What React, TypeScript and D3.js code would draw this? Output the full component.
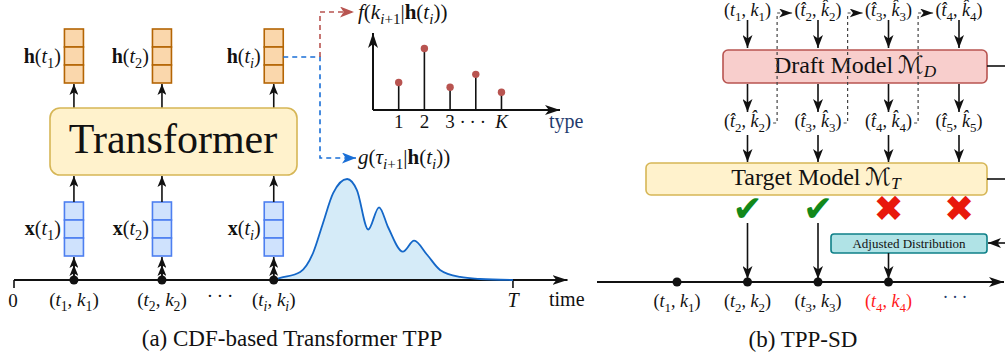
import React from 'react';
import * as d3 from 'd3';

const W = 1005;
const H = 356;
const SERIF = "'Liberation Serif', 'DejaVu Serif', serif";

// (a) event times on the left time axis and their subscripts
const leftTimes = [1.11, 2.74, 4.81];
const leftSubs = ['1', '2', 'i'];
const horizon = 9.24;

// next-event-time density drawn after t_i
const densT = [4.81, 4.93, 5.3, 5.54, 5.72, 5.91, 6.17, 6.35, 6.56, 6.76, 6.93, 7.2, 7.41, 7.65, 7.89, 8.26, 8.63, 9.24];
const densV = [0, 0.02, 0.08, 0.27, 0.56, 0.86, 1.0, 0.89, 0.5, 0.72, 0.52, 0.28, 0.39, 0.25, 0.1, 0.03, 0.01, 0];

// type distribution (stem plot)
const typePos = [1, 2, 3, 4, 5];
const typeLabels = ['1', '2', '3', '\u00b7\u2009\u00b7\u2009\u00b7', 'K'];
const typeProbs = [0.17, 0.38, 0.14, 0.22, 0.11];

// (b) speculative decoding columns
const draftIn = ['1', '2', '3', '4'];
const draftInHat = [false, true, true, true];
const draftOut = ['2', '3', '4', '5'];
const accepted = [true, true, false, false];
const seqIdx = [1, 2, 3, 4];
const seqColor = ['#111', '#111', '#111', '#ff1a1a'];

type Seg = { t: string; s?: 'r' | 'i' | 'b' | 'c'; sub?: boolean };
const r = (t: string): Seg => ({ t, s: 'r' });
const it = (t: string): Seg => ({ t, s: 'i' });
const bf = (t: string): Seg => ({ t, s: 'b' });
const sb = (t: string, s: Seg['s'] = 'r'): Seg => ({ t, s, sub: true });
const subOf = (v: string) => sb(v, /^\d+$/.test(v) ? 'r' : 'i');

const pair = (n: string, hat = false): Seg[] => {
  const h = hat ? '\u0302' : '';
  return [r('('), it('t' + h), subOf(n), r(', '), it('k' + h), subOf(n), r(')')];
};

const MathText = ({ x, y, segs, size, anchor = 'middle', fill = '#111', drop = 0.25 }: any) => {
  let cur = 0;
  return (
    <text x={x} y={y} fontSize={size} textAnchor={anchor} fill={fill} fontFamily={SERIF}>
      {segs.map((g: Seg, k: number) => {
        const off = g.sub ? size * drop : 0;
        const dy = off - cur;
        cur = off;
        return (
          <tspan
            key={k}
            dy={dy}
            fontSize={g.sub ? size * 0.72 : size}
            fontStyle={g.s === 'i' ? 'italic' : 'normal'}
            fontWeight={g.s === 'b' ? 'bold' : 'normal'}
            fontFamily={g.s === 'c' ? "'DejaVu Serif', 'DejaVu Sans', serif" : undefined}
          >
            {g.t}
          </tspan>
        );
      })}
    </text>
  );
};

const Head = ({ id, color, w = 10, h = 8 }: any) => (
  <marker id={id} viewBox="0 0 10 10" refX={10} refY={5} markerWidth={w} markerHeight={h}
    markerUnits="userSpaceOnUse" orient="auto" preserveAspectRatio="none">
    <path d="M0,0 L10,5 L0,10 L2.6,5 Z" fill={color} />
  </marker>
);

const Stack = ({ cx, y, fill, stroke }: any) => (
  <g>
    {[0, 1, 2].map((k) => (
      <rect key={k} x={cx - 9.5} y={y + k * 18} width={19} height={18} fill={fill} stroke={stroke} strokeWidth={1.6} />
    ))}
  </g>
);

export default function App() {
  const xL = d3.scaleLinear().domain([0, 10]).range([14, 554]);
  const yD = d3.scaleLinear().domain([0, 1]).range([280, 179]);
  const xS = d3.scaleLinear().domain([0, 7.2]).range([373, 558]);
  const yS = d3.scaleLinear().domain([0, 0.5]).range([110, 29]);
  const xR = d3.scaleLinear().domain([1, 5]).range([677, 959]);

  const dens = d3.zip(densT, densV) as [number, number][];
  const area = d3.area<[number, number]>()
    .x((d) => xL(d[0])).y0(yD(0)).y1((d) => yD(d[1]))
    .curve(d3.curveMonotoneX);
  const line = d3.line<[number, number]>()
    .x((d) => xL(d[0])).y((d) => yD(d[1]))
    .curve(d3.curveMonotoneX);

  const hi = xL(leftTimes[leftTimes.length - 1]);

  return (
    <svg width={W} height={H} style={{ position: 'absolute', left: 0, top: 0 }} fontFamily={SERIF}>
      <defs>
        <Head id="ak" color="#111" w={11} h={9} />
        <Head id="ab" color="#111" w={13} h={10} />
        <Head id="as" color="#111" w={15} h={10} />
        <Head id="ag" color="#111" w={13} h={9} />
        <Head id="ared" color="#b85450" w={14} h={11} />
        <Head id="ablue" color="#1a6fd6" w={14} h={11} />
      </defs>
      <rect width={W} height={H} fill="#fff" />

      {/* ---------- (a) ---------- */}
      <path d={area(dens) || ''} fill="#d5ebf8" />

      {leftTimes.map((t, k) => (
        <g key={k}>
          <Stack cx={xL(t)} y={29} fill="#fad7ac" stroke="#b46504" />
          <Stack cx={xL(t)} y={202} fill="#cfe2fd" stroke="#4d7ff0" />
          <line x1={xL(t)} y1={108} x2={xL(t)} y2={84} stroke="#111" strokeWidth={1.6} markerEnd="url(#ak)" />
          <line x1={xL(t)} y1={202} x2={xL(t)} y2={176} stroke="#111" strokeWidth={1.6} markerEnd="url(#ak)" />
          <line x1={xL(t)} y1={280} x2={xL(t)} y2={257} stroke="#111" strokeWidth={1.6} markerEnd="url(#ak)" />
          <line x1={xL(t)} y1={280} x2={xL(t)} y2={265} stroke="#111" strokeWidth={1.6} markerEnd="url(#ak)" />
          <MathText x={xL(t) - 13} y={63} size={20} anchor="end"
            segs={[bf('h'), r('('), it('t'), subOf(leftSubs[k]), r(')')]} />
          <MathText x={xL(t) - 13} y={235} size={20} anchor="end"
            segs={[bf('x'), r('('), it('t'), subOf(leftSubs[k]), r(')')]} />
        </g>
      ))}
      <rect x={50} y={108} width={247} height={67} rx={10} fill="#fff2cc" stroke="#d6b656" strokeWidth={1.6} />
      <text x={173} y={153} fontSize={42} textAnchor="middle" fill="#111">Transformer</text>

      {/* time axis */}
      <line x1={xL(0)} y1={280} x2={xL(10.25)} y2={280} stroke="#111" strokeWidth={2} markerEnd="url(#as)" />
      <line x1={xL(0)} y1={280} x2={xL(0)} y2={288} stroke="#111" strokeWidth={1.6} />
      <line x1={xL(horizon)} y1={280} x2={xL(horizon)} y2={288} stroke="#111" strokeWidth={1.6} />
      <path d={line(dens) || ''} fill="none" stroke="#1467c8" strokeWidth={1.8} />
      {leftTimes.map((t, k) => (
        <g key={k}>
          <circle cx={xL(t)} cy={280} r={4.5} fill="#111" />
          <MathText x={xL(t)} y={306} size={19} segs={pair(leftSubs[k])} />
        </g>
      ))}
      <text x={xL(0) - 1} y={307} fontSize={19} textAnchor="middle" fill="#111">0</text>
      <text x={220} y={302} fontSize={19} textAnchor="middle" fill="#111">{'\u00b7\u2009\u00b7\u2009\u00b7'}</text>
      <text x={xL(horizon)} y={307} fontSize={20} fontStyle="italic" textAnchor="middle" fill="#111">T</text>
      <text x={549} y={306} fontSize={20} fill="#111">time</text>

      {/* dashed routes from h(t_i) */}
      <path d={`M${hi + 9.5},57 H320 V158 H356`} fill="none" stroke="#1a6fd6" strokeWidth={1.6}
        strokeDasharray="5 4" markerEnd="url(#ablue)" />
      <path d="M320,57 V12 H354" fill="none" stroke="#b85450" strokeWidth={1.6}
        strokeDasharray="5 4" markerEnd="url(#ared)" />
      <MathText x={358} y={19} size={21} anchor="start"
        segs={[it('f'), r('('), it('k'), sb('i', 'i'), sb('+1'), r('|'), bf('h'), r('('), it('t'), sb('i', 'i'), r('))')]} />
      <MathText x={358} y={164} size={21} anchor="start"
        segs={[it('g'), r('('), it('\u03c4'), sb('i', 'i'), sb('+1'), r('|'), bf('h'), r('('), it('t'), sb('i', 'i'), r('))')]} />

      {/* stem plot */}
      <line x1={xS(0)} y1={yS(0)} x2={xS(0)} y2={33} stroke="#111" strokeWidth={2} markerEnd="url(#as)" />
      <line x1={xS(0)} y1={yS(0)} x2={xS(7.2) + 2} y2={yS(0)} stroke="#111" strokeWidth={2} markerEnd="url(#as)" />
      {typePos.map((p, k) => (
        <g key={k}>
          <line x1={xS(p)} y1={yS(0)} x2={xS(p)} y2={yS(typeProbs[k])} stroke="#111" strokeWidth={1.6} />
          <circle cx={xS(p)} cy={yS(typeProbs[k])} r={3.7} fill="#b85450" />
          <text x={xS(p) - (k === 3 ? 3 : 0)} y={128} fontSize={19} textAnchor="middle" fill="#111"
            fontStyle={typeLabels[k] === 'K' ? 'italic' : 'normal'}>{typeLabels[k]}</text>
        </g>
      ))}
      <text x={549} y={128} fontSize={20} fill="#1f3b6e">type</text>

      <text x={292} y={346} fontSize={23} textAnchor="middle" fill="#111">(a) CDF-based Transformer TPP</text>

      {/* ---------- (b) ---------- */}
      <rect x={723} y={50} width={264} height={33} rx={5} fill="#f8cecc" stroke="#b85450" strokeWidth={1.6} />
      <MathText x={855} y={73} size={24} drop={0.16} segs={[r('Draft Model\u2009'), { t: '\u2133', s: 'c' }, sb('D', 'i')]} />
      <line x1={987} y1={66} x2={1005} y2={66} stroke="#111" strokeWidth={1.6} />

      <rect x={646} y={163} width={341} height={32} rx={5} fill="#fff2cc" stroke="#d6b656" strokeWidth={1.6} />
      <MathText x={816} y={185} size={24} drop={0.16} segs={[r('Target Model\u2009'), { t: '\u2133', s: 'c' }, sb('T', 'i')]} />
      <line x1={987} y1={179} x2={1005} y2={179} stroke="#111" strokeWidth={1.6} />

      {draftIn.map((n, k) => {
        const cx = xR(k + 2);
        return (
          <g key={k}>
            <MathText x={cx} y={16} size={18} segs={pair(n, draftInHat[k])} />
            <line x1={cx} y1={20} x2={cx} y2={48} stroke="#111" strokeWidth={1.6} markerEnd="url(#ab)" />
            <line x1={cx} y1={84} x2={cx} y2={112} stroke="#111" strokeWidth={1.6} markerEnd="url(#ab)" />
            <MathText x={cx} y={127} size={18} segs={pair(draftOut[k], true)} />
            <line x1={cx} y1={135} x2={cx} y2={162} stroke="#111" strokeWidth={1.6} markerEnd="url(#ab)" />
            <text x={cx} y={221} fontSize={36} textAnchor="middle" fontFamily="'DejaVu Sans', sans-serif"
              fill={accepted[k] ? '#12881a' : '#e8180c'} fontWeight="bold">
              {accepted[k] ? '\u2714' : '\u2716'}
            </text>
            {accepted[k] && (
              <line x1={cx} y1={223} x2={cx} y2={279} stroke="#111" strokeWidth={1.6} markerEnd="url(#ab)" />
            )}
          </g>
        );
      })}
      {[0, 1, 2].map((k) => {
        const x = xR(k + 2.42);
        return (
          <path key={k} d={`M${x - 4},123 H${x} V13 H${x + 15}`} fill="none" stroke="#444" strokeWidth={1.2}
            strokeDasharray="3 3" markerEnd="url(#ag)" />
        );
      })}

      <rect x={831} y={234} width={156} height={19} rx={3} fill="#b0e3e6" stroke="#0e8088" strokeWidth={1.6} />
      <text x={909} y={248} fontSize={13} textAnchor="middle" fill="#111">Adjusted Distribution</text>
      <line x1={xR(4)} y1={253} x2={xR(4)} y2={279} stroke="#111" strokeWidth={1.6} markerEnd="url(#ab)" />
      <line x1={1005} y1={243} x2={988} y2={243} stroke="#111" strokeWidth={1.6} markerEnd="url(#ab)" />

      <line x1={597} y1={282} x2={1004} y2={282} stroke="#111" strokeWidth={2} markerEnd="url(#as)" />
      {seqIdx.map((n, k) => (
        <g key={k}>
          <circle cx={xR(n)} cy={282} r={4.5} fill="#111" />
          <MathText x={xR(n)} y={307} size={18} fill={seqColor[k]} segs={pair(String(n))} />
        </g>
      ))}
      <text x={xR(5) - 4} y={303} fontSize={18} textAnchor="middle" fill="#2a3f6e">{'\u00b7\u2009\u00b7\u2009\u00b7'}</text>

      <text x={803} y={347} fontSize={23} textAnchor="middle" fill="#111">(b) TPP-SD</text>
    </svg>
  );
}
